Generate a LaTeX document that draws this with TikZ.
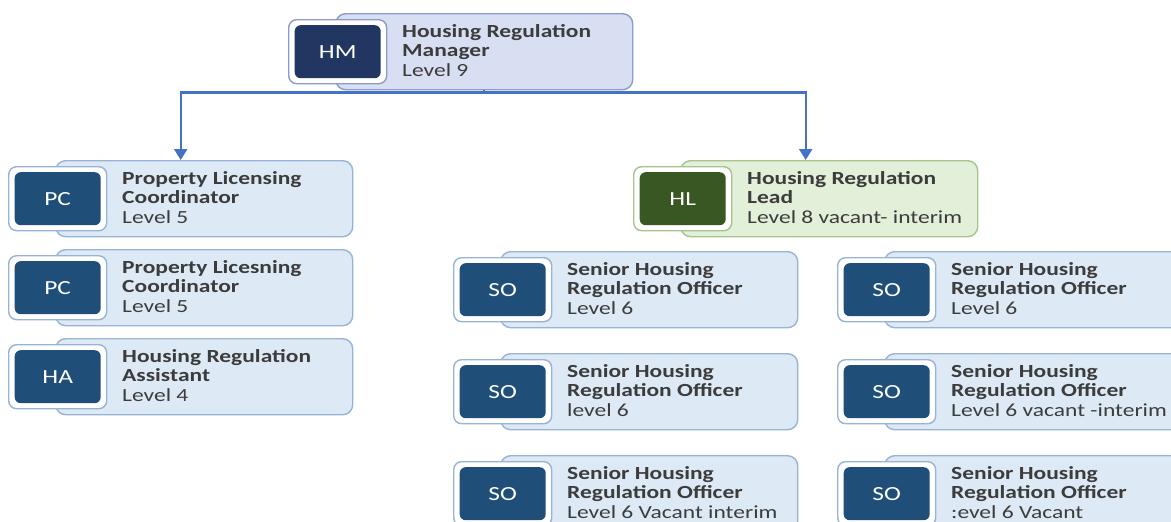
\documentclass[tikz,border=0pt]{standalone}
\usepackage{fontspec}
\setmainfont[FakeStretch=1.27]{Carlito}
\usetikzlibrary{arrows.meta,calc}

% colour schemes: badge, card fill, card border
\definecolor{navybadge}{HTML}{213661}
\definecolor{navyfill}{HTML}{D9DFF2}
\definecolor{navyborder}{HTML}{8C9CC6}
\definecolor{bluebadge}{HTML}{1F4E79}
\definecolor{bluefill}{HTML}{DDEAF6}
\definecolor{blueborder}{HTML}{98B3D4}
\definecolor{greenbadge}{HTML}{385723}
\definecolor{greenfill}{HTML}{E2EFD9}
\definecolor{greenborder}{HTML}{A6C48C}
\definecolor{linkblue}{HTML}{4472C4}
\definecolor{labelgrey}{HTML}{3C3C3C}

\tikzset{
  staffbox/.style={draw=#1border, fill=#1fill, line width=1.4pt, rounded corners=10pt,
    minimum width=297pt, minimum height=76pt, inner sep=0pt},
  staffframe/.style={draw=#1border, fill=white, line width=1.4pt, rounded corners=8pt,
    minimum width=98pt, minimum height=64pt, inner sep=0pt},
  staffbadge/.style={fill=#1badge, rounded corners=6pt, minimum width=86pt,
    minimum height=53pt, inner sep=0pt, text=white,
    font=\fontsize{20pt}{20pt}\selectfont},
  stafftext/.style={align=left, inner sep=0pt, text=labelgrey,
    font=\fontsize{18.5pt}{19.5pt}\selectfont},
  conn/.style={draw=linkblue, line width=2.4pt,
    -{Triangle[width=13pt,length=11pt]}},
}

% one staff entry: name, card left, card top, colour scheme, initials,
% title line 1, title line 2, level
\newcommand\staffcard[8]{%
  \node[staffbox=#4, anchor=north west] (#1card) at (#2,#3) {};
  \node[staffframe=#4, anchor=west] (#1frame) at ([xshift=-47pt]#1card.west) {};
  \node[staffbadge=#4] (#1badge) at (#1frame.center) {#5};
  \node[stafftext, anchor=west] (#1text) at ([xshift=67pt,yshift=1.5pt]#1card.west)
    {\bfseries #6\\\bfseries #7\\#8};
  \coordinate (#1mid) at ($(#1frame.west)!0.5!(#1card.east)$);
  \coordinate (#1top) at (#1mid |- #1card.north);
}

\begin{document}
\begin{tikzpicture}[x=1pt,y=-1pt]
  \useasboundingbox (0,0) rectangle (1171,522);
  \clip (0,0) rectangle (1171,522);
  \fill[white] (0,0) rectangle (1171,522);

  % manager
  \staffcard{hm}{335}{13}{navy}{HM}{Housing Regulation}{Manager}{Level 9}

  % left team
  \staffcard{pca}{55}{160}{blue}{PC}{Property Licensing}{Coordinator}{Level 5}
  \staffcard{pcb}{55}{249}{blue}{PC}{Property Licesning}{Coordinator}{Level 5}
  \staffcard{ha}{55}{338}{blue}{HA}{Housing Regulation}{Assistant}{Level 4}

  % lead
  \staffcard{hl}{680}{160}{green}{HL}{Housing Regulation}{Lead}{Level 8 vacant- interim}

  % senior officers, first column
  \staffcard{soa}{500}{251}{blue}{SO}{Senior Housing}{Regulation Officer}{Level 6}
  \staffcard{sob}{500}{353}{blue}{SO}{Senior Housing}{Regulation Officer}{level 6}
  \staffcard{soc}{500}{455}{blue}{SO}{Senior Housing}{Regulation Officer}{Level 6 Vacant interim}

  % senior officers, second column
  \staffcard{sod}{884}{251}{blue}{SO}{Senior Housing}{Regulation Officer}{Level 6}
  \staffcard{soe}{884}{353}{blue}{SO}{Senior Housing}{Regulation Officer}{Level 6 vacant -interim}
  \staffcard{sof}{884}{455}{blue}{SO}{Senior Housing}{Regulation Officer}{:evel 6 Vacant}

  % reporting lines
  \draw[conn] (hmcard.south) -- ++(0,2) -| (pcatop);
  \draw[conn] (hmcard.south) -- ++(0,2) -| (hltop);
\end{tikzpicture}
\end{document}
